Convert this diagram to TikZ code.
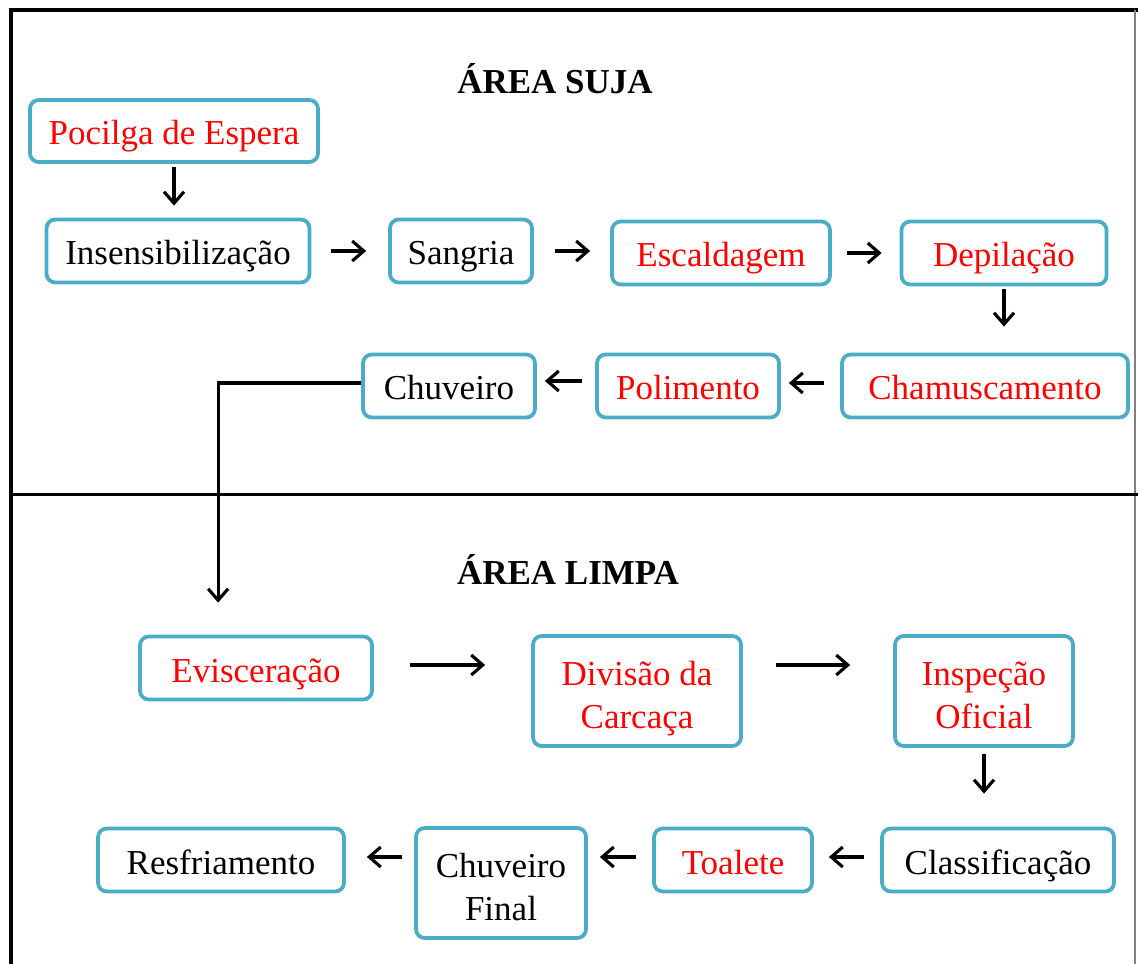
\documentclass[tikz,border=0pt]{standalone}
\usepackage{fontspec}
\setmainfont{Liberation Serif}
\usetikzlibrary{arrows.meta}
\definecolor{boxblue}{RGB}{75,172,198}
\begin{document}
\begin{tikzpicture}[x=0.4pt, y=-0.4pt,
        etapa/.style={draw=boxblue, line width=1.5pt, rounded corners=3.5pt,
            minimum height=25.2pt, inner sep=0pt, align=center,
            text height=12.6pt, text depth=1.4pt,
            font=\fontsize{14}{17.2}\selectfont},
        verm/.style={etapa, text=red},
        dupla/.style={minimum height=44pt, text height=31pt},
        seta/.style={line width=1.25pt, -{Straight Barb[length=4.6pt,width=8pt]}},
        titulo/.style={font=\fontsize{14}{16.8}\selectfont\bfseries}]
            \useasboundingbox (0,0) rectangle (1138,964);

            % moldura
            \draw[line width=1.4pt] (11,964) -- (11,10) -- (1138,10);
            \draw[gray, line width=0.5pt] (1135,10) -- (1135,964);
            \draw[line width=1.2pt] (11,495) -- (1138,495);

            \node[titulo] (suja) at (555,79) {ÁREA SUJA};
            \node[titulo] (limpa) at (568,569) {ÁREA LIMPA};

            \node[verm, minimum width=115.2pt, minimum height=24.8pt] (poc) at (174,131) {Pocilga de Espera};
            \node[etapa, minimum width=105.2pt] (ins) at (178,251) {Insensibilização};
            \node[etapa, minimum width=56.8pt] (san) at (461,251) {Sangria};
            \node[verm, minimum width=87.2pt] (esc) at (721,253) {Escaldagem};
            \node[verm, minimum width=82pt] (dep) at (1004,253) {Depilação};
            \node[verm, minimum width=114.4pt] (cha) at (985,386) {Chamuscamento};
            \node[verm, minimum width=72.8pt] (pol) at (688,386) {Polimento};
            \node[etapa, minimum width=68.8pt] (chu) at (449,386) {Chuveiro};

            \node[verm, minimum width=92.8pt] (evi) at (256,668) {Evisceração};
            \node[verm, dupla, minimum width=83.2pt] (div) at (637,691) {Divisão da\\Carcaça};
            \node[verm, dupla, minimum width=71.2pt] (isp) at (984,691) {Inspeção\\Oficial};
            \node[etapa, minimum width=92.8pt] (cla) at (998,860) {Classificação};
            \node[verm, minimum width=63.2pt] (toa) at (733,860) {Toalete};
            \node[etapa, dupla, minimum width=68pt] (chf) at (501,883) {Chuveiro\\Final};
            \node[etapa, minimum width=98.4pt] (res) at (221,860) {Resfriamento};

            \draw[seta, shorten <=1.2pt, shorten >=4.8pt] (poc.south) -- (poc.south |- ins.north);
            \draw[seta, shorten <=8pt, shorten >=8.8pt] (ins) -- (san);
            \draw[seta, shorten <=8.4pt, shorten >=8pt] (san.east) -- (san.east -| esc.west);
            \draw[seta, shorten <=6pt, shorten >=7.2pt] (esc.east) -- (esc.east -| dep.west);
            \draw[seta, shorten <=1pt, shorten >=10.4pt] (dep.south) -- (dep.south |- cha.north);
            \draw[seta, shorten <=6.4pt, shorten >=3.2pt] ([yshift=1.2pt]cha.west) -- ([yshift=1.2pt]cha.west -| pol.east);
            \draw[seta, shorten <=5.2pt, shorten >=3.2pt] ([yshift=2pt]pol.west) -- ([yshift=2pt]pol.west -| chu.east);
            \draw[seta, shorten >=12.8pt] ([yshift=1.2pt]chu.west) -| ([xshift=32pt]evi.north west);

            \draw[seta, shorten <=14.4pt, shorten >=18.4pt] ([yshift=1.2pt]evi.east) -- ([yshift=1.2pt]evi.east -| div.west);
            \draw[seta, shorten <=13.2pt, shorten >=17.2pt] ([yshift=1.2pt]evi.east -| div.east) -- ([yshift=1.2pt]evi.east -| isp.west);
            \draw[seta, shorten <=2.4pt, shorten >=13.2pt] (isp.south) -- (isp.south |- cla.north);
            \draw[seta, shorten <=6.4pt, shorten >=6pt] ([yshift=1.2pt]cla.west) -- ([yshift=1.2pt]cla.west -| toa.east);
            \draw[seta, shorten <=6.4pt, shorten >=4.8pt] ([yshift=1.2pt]toa.west) -- ([yshift=1.2pt]toa.west -| chf.east);
            \draw[seta, shorten <=4.8pt, shorten >=8.4pt] ([yshift=1.2pt]toa.west -| chf.west) -- ([yshift=1.2pt]toa.west -| res.east);
        \end{tikzpicture}
\end{document}
